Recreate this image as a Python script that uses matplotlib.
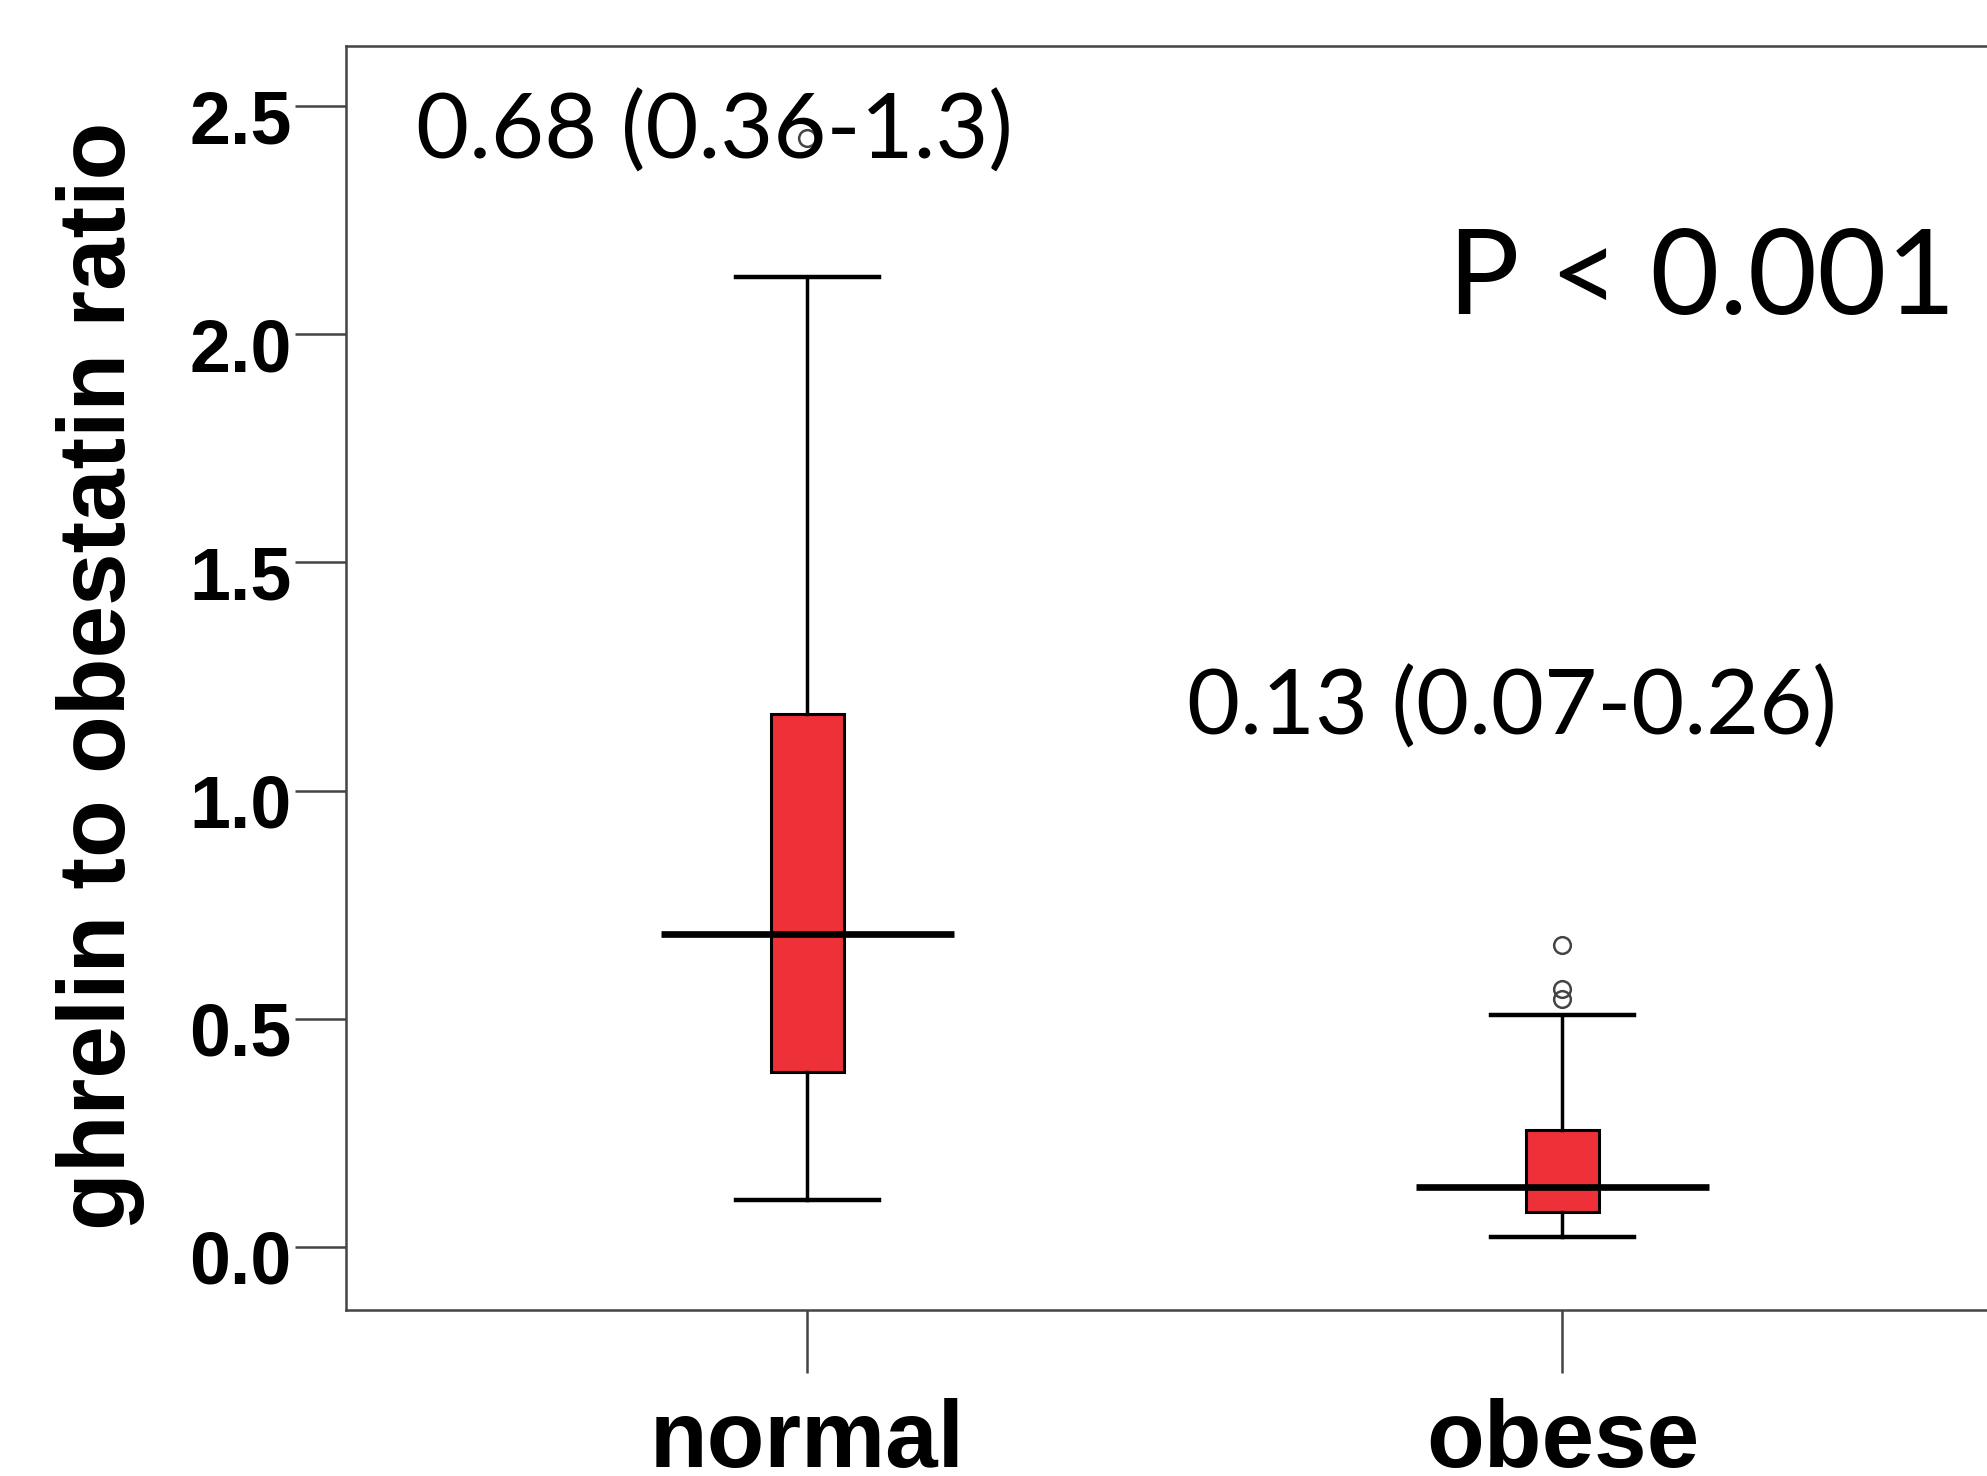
import matplotlib.pyplot as plt
from matplotlib.transforms import ScaledTranslation

# box plot values
groups = ['normal', 'obese']
medians = [0.686, 0.131]
q1 = [0.383, 0.076]
q3 = [1.167, 0.256]
whis_lo = [0.103, 0.022]
whis_hi = [2.125, 0.508]
outliers = [[2.43], [0.661, 0.564, 0.542]]

# annotation texts
group_notes = ['0.68 (0.36-1.3)', '0.13 (0.07-0.26)']
p_text = 'P < 0.001'
yticks = [0.0, 0.5, 1.0, 1.5, 2.0, 2.5]
ylabel = 'ghrelin to obestatin ratio'

fig = plt.figure(figsize=(19.87, 14.76), dpi=100)
ax = fig.add_axes([0.1741, 0.1124, 0.8444, 0.8567])

positions = [1, 2]
stats = []
for i, g in enumerate(groups):
    stats.append(dict(label=g, med=medians[i], q1=q1[i], q3=q3[i],
                      whislo=whis_lo[i], whishi=whis_hi[i], fliers=outliers[i]))

ax.bxp(stats, positions=positions, widths=0.097, capwidths=0.19,
       patch_artist=True,
       boxprops=dict(facecolor='#ee3038', edgecolor='black', linewidth=2.2),
       whiskerprops=dict(color='black', linewidth=2.5),
       capprops=dict(color='black', linewidth=3.2),
       medianprops=dict(linewidth=0),
       flierprops=dict(marker='o', markerfacecolor='none', markeredgecolor='#444444',
                       markersize=12, markeredgewidth=1.8))

# wide median lines
for p, m in zip(positions, medians):
    ax.hlines(m, p - 0.194, p + 0.194, color='black', linewidth=4.8, zorder=4)

ax.set_xlim(0.389, 2.611)
ax.set_ylim(-0.139, 2.633)
ax.set_yticks(yticks)
ax.set_yticklabels([f'{t:.1f}' for t in yticks])
ax.set_xticks(positions)
ax.set_xticklabels(groups)

for s in ax.spines.values():
    s.set_color('#444444')
    s.set_linewidth(1.8)

ax.tick_params(axis='y', length=37, width=1.8, color='#444444', pad=2)
ax.tick_params(axis='x', length=45, width=1.8, color='#444444', pad=18)

for lab in ax.get_yticklabels():
    lab.set_fontfamily('Liberation Sans')
    lab.set_fontweight('bold')
    lab.set_fontsize(53)
    lab.set_transform(lab.get_transform() + ScaledTranslation(0, -7 / 72, fig.dpi_scale_trans))
for lab in ax.get_xticklabels():
    lab.set_fontfamily('Liberation Sans')
    lab.set_fontweight('bold')
    lab.set_fontsize(68)

fig.text(101 / 1987, 1 - 676 / 1476, ylabel, rotation=90, ha='center', va='center',
         fontfamily='Liberation Sans', fontweight='bold', fontsize=68)

ax.text(0.4815, 2.386, group_notes[0], fontfamily='Lato', fontsize=66, va='baseline', ha='left')
ax.text(1.503, 1.122, group_notes[1], fontfamily='Lato', fontsize=66, va='baseline', ha='left')
ax.text(1.849, 2.044, p_text, fontfamily='Lato', fontsize=86, va='baseline', ha='left')

fig.savefig('out.png', dpi=100)
